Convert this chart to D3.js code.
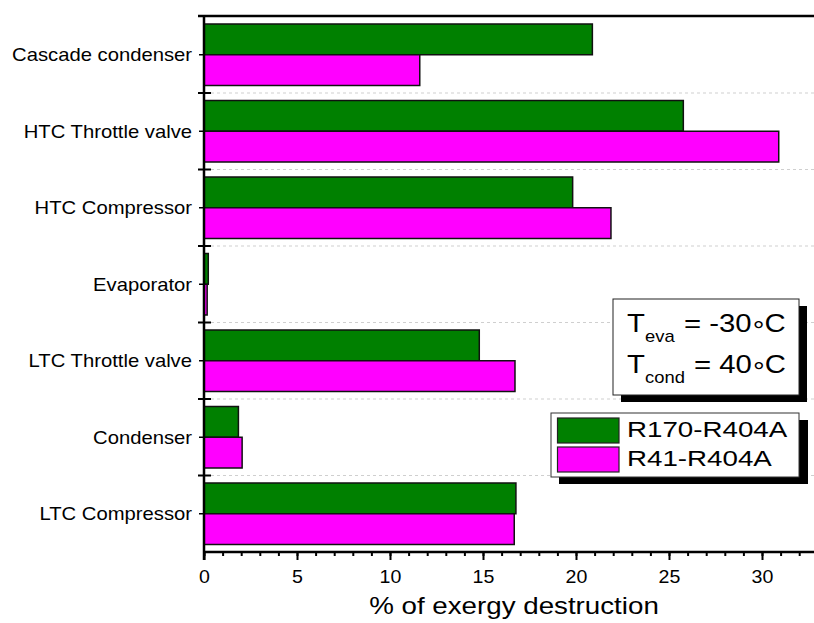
<!DOCTYPE html>
<html>
<head>
<meta charset="utf-8">
<script src="https://cdn.jsdelivr.net/npm/d3@7"></script>
<style>
  body { margin: 0; background: #fff; }
  text { font-family: "Liberation Sans", Arial, sans-serif; fill: #000; }
</style>
</head>
<body>
<div id="chart-area"></div>
<script>

// Data
var categories = ["Cascade condenser", "HTC Throttle valve", "HTC Compressor", "Evaporator",
                  "LTC Throttle valve", "Condenser", "LTC Compressor"];
var seriesNames = ["R170-R404A", "R41-R404A"];
var r170 = [20.88, 25.77, 19.82, 0.23, 14.80, 1.85, 16.77];
var r41  = [11.60, 30.90, 21.88, 0.17, 16.72, 2.05, 16.68];
var majorTicks = [0, 5, 10, 15, 20, 25, 30];
var colors = ["#008000", "#ff00ff"];

var width = 814,
    height = 623;

var svg = d3.select("#chart-area").append("svg")
    .attr("width", width)
    .attr("height", height);

var x = d3.scaleLinear().domain([0, 33.5]).range([204, 204 + 33.5 * 18.6]);
var y = d3.scaleBand().domain(categories).range([16.5, 552]).padding(0);
var bw = y.bandwidth();
var pad = 7.5;
var barH = (bw - 2 * pad) / 2;

// stretched text helper (the picture's text is wider than it is tall)
function stretchText(sel, sx) {
  sel.each(function() {
    var t = d3.select(this);
    var tx = +t.attr("x") || 0;
    var ty = +t.attr("y") || 0;
    t.attr("x", 0).attr("y", 0)
      .attr("transform", "translate(" + tx + "," + ty + ") scale(" + sx + ",1)");
  });
}

// gridlines between categories
svg.selectAll(".grid")
    .data(categories.slice(1))
    .enter()
    .append("line")
    .attr("x1", 211).attr("x2", width)
    .attr("y1", d => y(d)).attr("y2", d => y(d))
    .style("stroke", "#cfcfcf")
    .style("stroke-dasharray", "3,3");

// bars
var rows = categories.map(function(c, i) { return {cat: c, vals: [r170[i], r41[i]]}; });

rows.forEach(function(row) {
  svg.selectAll(null)
    .data(row.vals)
    .enter()
    .append("rect")
    .attr("x", x(0))
    .attr("y", (d, j) => y(row.cat) + pad + j * barH)
    .attr("width", d => x(d) - x(0))
    .attr("height", barH)
    .style("fill", (d, j) => colors[j])
    .style("stroke", "#111")
    .style("stroke-width", 1.5);
});

// X AXIS: minor + major ticks
svg.append("g")
    .attr("transform", "translate(0,552)")
    .call(d3.axisBottom(x).tickValues(d3.range(0, 34)).tickSize(4).tickFormat(""))
    .call(g => g.select(".domain").remove())
    .selectAll("line").style("stroke", "#000").style("stroke-width", 2);

var xAxis = svg.append("g")
    .attr("transform", "translate(0,552)")
    .call(d3.axisBottom(x).tickValues(majorTicks).tickSize(8).tickPadding(10).tickFormat(d3.format("d")));
xAxis.select(".domain").remove();
xAxis.selectAll("line").style("stroke", "#000").style("stroke-width", 2);
xAxis.selectAll("text")
    .attr("dy", null)
    .attr("y", 31)
    .style("font-size", "17.5px")
    .attr("font-family", null);
stretchText(xAxis.selectAll("text"), 1.12);

// Y AXIS: labels with small centre ticks
var yAxis = svg.append("g")
    .attr("transform", "translate(204,0)")
    .call(d3.axisLeft(y).tickSize(5).tickPadding(7));
yAxis.select(".domain").remove();
yAxis.selectAll("line").style("stroke", "#000").style("stroke-width", 1.5);
yAxis.selectAll("text")
    .attr("dy", null)
    .attr("y", 6.5)
    .style("font-size", "18px")
    .attr("font-family", null);
yAxis.selectAll(".tick").each(function() {
  stretchText(d3.select(this).select("text"), 1.125);
});

// boundary ticks crossing the y axis
svg.selectAll(".bnd")
    .data(categories.slice(1))
    .enter()
    .append("line")
    .attr("x1", 198).attr("x2", 211)
    .attr("y1", d => y(d)).attr("y2", d => y(d))
    .style("stroke", "#000")
    .style("stroke-width", 2);

// frame lines
svg.append("line").attr("x1", 204).attr("x2", width).attr("y1", 552).attr("y2", 552)
    .style("stroke", "#000").style("stroke-width", 2.5);
svg.append("line").attr("x1", 204).attr("x2", 204).attr("y1", 16).attr("y2", 560)
    .style("stroke", "#000").style("stroke-width", 2.5);
svg.append("line").attr("x1", 198).attr("x2", width).attr("y1", 16).attr("y2", 16)
    .style("stroke", "#000").style("stroke-width", 2.5);

// x axis title
var title = svg.append("text")
    .attr("x", 514).attr("y", 614)
    .attr("text-anchor", "middle")
    .style("font-size", "23.5px")
    .text("% of exergy destruction");
stretchText(title, 1.18);

// ANNOTATION BOX
svg.append("rect").attr("x", 621).attr("y", 306).attr("width", 186).attr("height", 96)
    .style("fill", "#000");
svg.append("rect").attr("x", 613).attr("y", 299).attr("width", 186).attr("height", 96)
    .style("fill", "#fff").style("stroke", "#222").style("stroke-width", 1);

var notes = [["eva", "= -30", 332, 684], ["cond", "= 40", 373, 694]];
notes.forEach(function(n) {
  var t1 = svg.append("text").attr("x", 627).attr("y", n[2]).style("font-size", "25.5px").text("T");
  stretchText(t1, 1.15);
  var t2 = svg.append("text").attr("x", 645).attr("y", n[2] + 9.5).style("font-size", "16px").text(n[0]);
  stretchText(t2, 1.15);
  var t3 = svg.append("text").attr("x", n[3]).attr("y", n[2]).style("font-size", "25.5px");
  t3.append("tspan").text(n[1]);
  t3.append("tspan").attr("dy", 7).attr("dx", 1).text("\u00b0");
  t3.append("tspan").attr("dy", -7).attr("dx", 0).text("C");
  stretchText(t3, 1.15);
});

// LEGEND
svg.append("rect").attr("x", 559).attr("y", 420).attr("width", 249).attr("height", 64)
    .style("fill", "#000");
svg.append("rect").attr("x", 551).attr("y", 413).attr("width", 248).attr("height", 64)
    .style("fill", "#fff").style("stroke", "#333").style("stroke-width", 1);

var legend = svg.selectAll(".legend")
    .data(seriesNames)
    .enter()
    .append("g");

legend.append("rect")
    .attr("x", 557.5)
    .attr("y", (d, i) => 418 + i * 29)
    .attr("width", 61.5)
    .attr("height", 25)
    .style("fill", (d, i) => colors[i])
    .style("stroke", "#222")
    .style("stroke-width", 1.2);

legend.append("text")
    .attr("x", 627)
    .attr("y", (d, i) => 437 + i * 29)
    .style("font-size", "22px")
    .text(d => d)
    .call(stretchText, 1.26);

</script>
</body>
</html>
